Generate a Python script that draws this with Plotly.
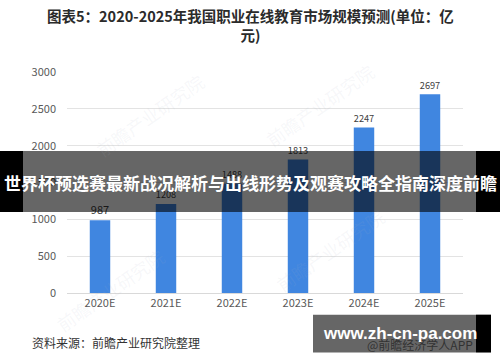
import plotly.graph_objects as go

categories = ["2020E", "2021E", "2022E", "2023E", "2024E", "2025E"]
values = [987, 1208, 1488, 1813, 2247, 2697]
y_ticks = [0, 500, 1000, 1500, 2000, 2500, 3000]

title_text = "图表5：2020-2025年我国职业在线教育市场规模预测(单位：亿<br>元)"
source_text = "资料来源：前瞻产业研究院整理"
banner_text = "世界杯预选赛最新战况解析与出线形势及观赛攻略全指南深度前瞻"
site_text = "www.zh-cn-pa.com"
app_text = "@前瞻经济学人APP"
watermark_text = "前瞻产业研究院"

W, H = 500, 362
L, R, T, B = 67, 37, 71.7, 68.7
PW, PH = W - L - R, H - T - B

def px(x):
    return (x - L) / PW

def py(y):
    return (H - B - y) / PH

FONT = "Noto Sans CJK SC, Noto Sans, sans-serif"

fig = go.Figure()
fig.add_trace(go.Bar(
    x=categories, y=values,
    marker=dict(color="#4086E0", line=dict(width=0)),
    text=[str(v) for v in values], textposition="outside",
    textfont=dict(size=11, color="#404040", family=FONT),
    cliponaxis=False, width=0.31,
))

def ann(x, y, text, size, color, family=FONT, angle=0, xa="center", ya="middle"):
    return dict(x=px(x), y=py(y), xref="paper", yref="paper", text=text, showarrow=False,
                xanchor=xa, yanchor=ya, textangle=angle, align="center",
                font=dict(size=size, color=color, family=family))

annotations = []
# faint watermarks
for (x, y) in [(150, 115), (320, 105), (110, 290), (330, 250)]:
    annotations.append(ann(x, y, watermark_text, 18, "rgba(170,180,195,0.10)", angle=-35))
annotations += [
    ann(250, 25, "<b>" + title_text + "</b>", 14.5, "#2b2b2b"),
    ann(30, 343, source_text, 12, "#333333", xa="left"),
    ann(475, 345, app_text, 12, "rgba(40,40,40,0.85)", xa="right"),
    ann(250, 183, "<b>" + banner_text + "</b>", 17, "white"),
    ann(400, 334, "<b>" + site_text + "</b>", 17, "white", family="Liberation Sans, Arial, sans-serif"),
]

shapes = [
    dict(type="rect", xref="paper", yref="paper", x0=px(23), x1=px(476), y0=py(212), y1=py(151),
         fillcolor="rgba(0,0,0,0.6)", line=dict(width=0), layer="above"),
    dict(type="rect", xref="paper", yref="paper", x0=px(0), x1=px(23), y0=py(212), y1=py(151),
         fillcolor="black", line=dict(width=0), layer="above"),
    dict(type="rect", xref="paper", yref="paper", x0=px(476), x1=px(500), y0=py(212), y1=py(151),
         fillcolor="black", line=dict(width=0), layer="above"),
    dict(type="rect", xref="paper", yref="paper", x0=px(313), x1=px(476), y0=py(353), y1=py(315),
         fillcolor="rgba(0,0,0,0.6)", line=dict(width=0), layer="above"),
    dict(type="rect", xref="paper", yref="paper", x0=px(476), x1=px(491), y0=py(353), y1=py(315),
         fillcolor="black", line=dict(width=0), layer="above"),
]

fig.update_layout(
    width=W, height=H,
    margin=dict(l=L, r=R, t=T, b=B, pad=0),
    paper_bgcolor="white", plot_bgcolor="white",
    showlegend=False,
    font=dict(family=FONT),
    annotations=annotations, shapes=shapes,
    xaxis=dict(showgrid=False, showline=True, linecolor="#d9d9d9", linewidth=1, ticks="",
               tickfont=dict(size=11, color="#595959")),
    yaxis=dict(range=[0, 3000], tickvals=y_ticks, showgrid=True, gridcolor="#e3e3e3",
               gridwidth=1, zeroline=False, showline=False, ticks="",
               ticklabelstandoff=10, tickfont=dict(size=11, color="#595959")),
)

fig.write_html("out.html", config={"displayModeBar": False},
               post_script="document.body.style.margin='0';")
